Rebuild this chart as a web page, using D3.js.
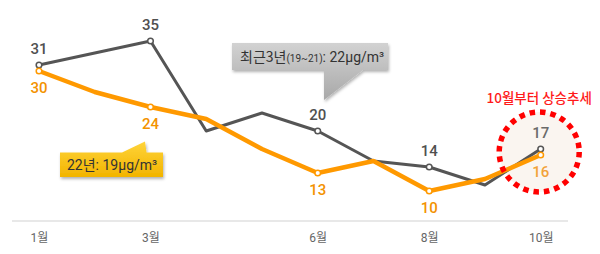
<!DOCTYPE html>
<html><head><meta charset="utf-8">
<script src="https://cdn.jsdelivr.net/npm/d3@7"></script>
<style>
html,body{margin:0;padding:0;background:#fff;}
svg{display:block;font-family:Roboto,"Noto Sans CJK KR",sans-serif;}
</style></head>
<body>
<svg id="c" width="600" height="254"></svg>
<script>
const months = [1,2,3,4,5,6,7,8,9,10];
const tickMonths = [1,3,6,8,10];
const tickLabels = ["1월","3월","6월","8월","10월"];
const recent3yr = [31,33,35,20,23,20,15,14,11,17];   // 최근3년(19~21)
const year22 = [30,26.5,24,22,17,13,15,10,12,16];    // 22년
const labeledMonths = [1,3,6,8,10];
const calloutGray = "최근3년";
const calloutGraySub = "(19~21)";
const calloutGrayVal = ": 22μg/m³";
const calloutOrange = "22년: 19μg/m³";
const noteText = "10월부터 상승추세";

const svg = d3.select("#c");
const x = d3.scaleLinear().domain([1,10]).range([39,540.7]);
const y = d3.scaleLinear().domain([0,35]).range([251,41]);

const defs = svg.append("defs");
const gg = defs.append("linearGradient").attr("id","gg").attr("x1",0).attr("y1",0).attr("x2",0).attr("y2",1);
gg.append("stop").attr("offset","0%").attr("stop-color","#d2d2d2");
gg.append("stop").attr("offset","100%").attr("stop-color","#a8a8a8");
const go = defs.append("linearGradient").attr("id","go").attr("x1",0).attr("y1",0).attr("x2",0).attr("y2",1);
go.append("stop").attr("offset","0%").attr("stop-color","#ffd43a");
go.append("stop").attr("offset","100%").attr("stop-color","#f2b400");
const sh = defs.append("filter").attr("id","sh").attr("x","-10%").attr("y","-10%").attr("width","130%").attr("height","150%");
sh.append("feDropShadow").attr("dx",1).attr("dy",2).attr("stdDeviation",1.5).attr("flood-color","#000").attr("flood-opacity",0.3);

// baseline
svg.append("line").attr("x1",12).attr("x2",568).attr("y1",221).attr("y2",221)
  .attr("stroke","#e8e8e8").attr("stroke-width",2);

// axis labels
const axis = d3.axisBottom(x).tickValues(tickMonths).tickSize(0).tickPadding(0)
  .tickFormat((d,i)=>tickLabels[i]);
const ag = svg.append("g").attr("transform","translate(0,233)").call(axis);
ag.select(".domain").remove();
ag.selectAll("text").attr("font-size",12).attr("fill","#666").attr("dy","0.71em")
  .attr("font-family",'Roboto,"Noto Sans CJK KR",sans-serif');

// highlight circle fill
const cx = x(10) - 1.5, cy = 152, r = 40;
svg.append("circle").attr("cx",cx).attr("cy",cy).attr("r",r).attr("fill","#faf5f0");

const line = d3.line().x((d,i)=>x(months[i])).y(d=>y(d));
svg.append("path").datum(recent3yr).attr("d",line).attr("fill","none")
  .attr("stroke","#555").attr("stroke-width",3).attr("stroke-linejoin","round");
svg.append("path").datum(year22).attr("d",line).attr("fill","none")
  .attr("stroke","#ff9900").attr("stroke-width",4.5).attr("stroke-linejoin","round");

// markers
labeledMonths.forEach(m=>{
  const i = months.indexOf(m);
  svg.append("circle").attr("cx",x(m)).attr("cy",y(recent3yr[i])).attr("r",2.8)
    .attr("fill","#fff").attr("stroke","#555").attr("stroke-width",1.5);
  svg.append("circle").attr("cx",x(m)).attr("cy",y(year22[i])).attr("r",2.8)
    .attr("fill","#fff").attr("stroke","#ff9900").attr("stroke-width",1.5);
});

// dashed circle stroke
svg.append("circle").attr("cx",cx).attr("cy",cy).attr("r",r).attr("fill","none")
  .attr("stroke","#ff0000").attr("stroke-width",5.5).attr("stroke-dasharray","5.5 5");

// value labels
labeledMonths.forEach(m=>{
  const i = months.indexOf(m);
  svg.append("text").attr("x",x(m)).attr("y",y(recent3yr[i])-11).attr("text-anchor","middle")
    .attr("font-size",15).attr("font-weight",500).attr("fill", m===10?"#6a6a6a":"#505050").text(recent3yr[i]);
  svg.append("text").attr("x",x(m)).attr("y",y(year22[i])+22).attr("text-anchor","middle")
    .attr("font-size",15).attr("font-weight",500).attr("fill", m===10?"#f2a23a":"#f39200").text(year22[i]);
});

// note
svg.append("text").attr("x",cx).attr("y",103).attr("text-anchor","middle")
  .attr("font-size",13.5).attr("font-weight",500).attr("fill","#ff1a1a").attr("font-family",'"Noto Sans CJK KR",sans-serif').text(noteText);

// gray callout
const g1 = svg.append("g").attr("filter","url(#sh)");
g1.append("path").attr("d","M232,43 H388 V70 H363 L324,100 V70 H232 Z").attr("fill","url(#gg)");
const t1 = svg.append("text").attr("x",240).attr("y",62).attr("font-size",14).attr("fill","#333");
t1.append("tspan").attr("font-family",'"Noto Sans CJK KR",sans-serif').text(calloutGray);
t1.append("tspan").attr("font-size",10).text(calloutGraySub);
t1.append("tspan").text(calloutGrayVal);

// orange callout
const g2 = svg.append("g").attr("filter","url(#sh)");
g2.append("path").attr("d","M60,152.5 H122 L145,141.5 L146.5,152.5 H163 V177 H60 Z").attr("fill","url(#go)");
svg.append("text").attr("x",67).attr("y",170).attr("font-size",14).attr("fill","#333").text(calloutOrange);
</script>
</body></html>
